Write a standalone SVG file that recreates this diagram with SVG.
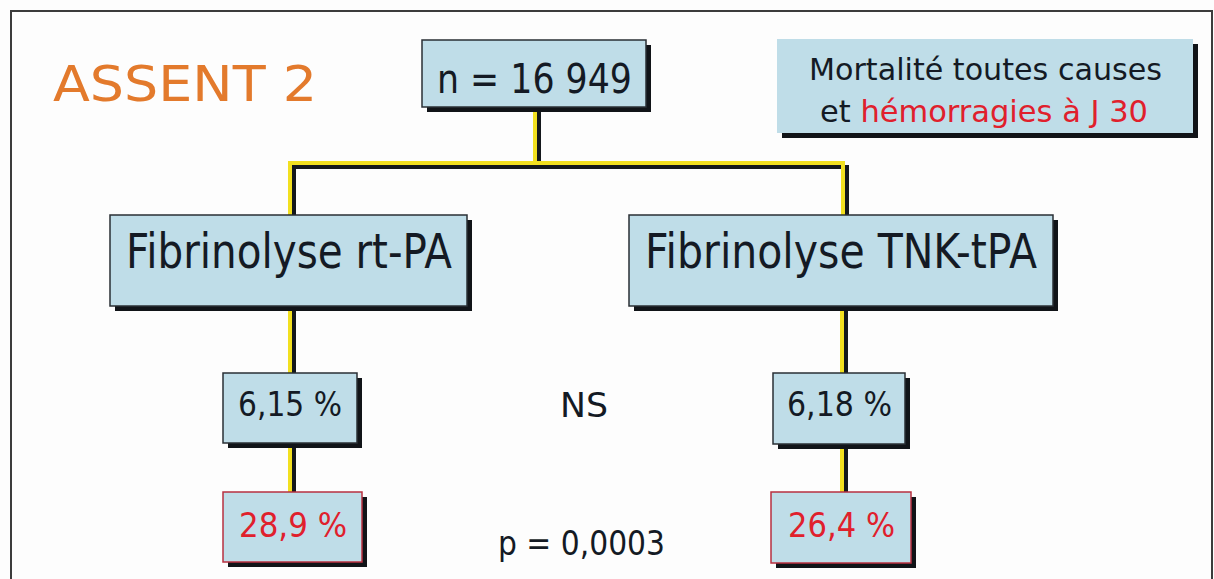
<svg xmlns="http://www.w3.org/2000/svg" width="1214" height="579" viewBox="0 0 1214 579">
<style>
.box{fill:#bfdde8;stroke:#2a2f35;stroke-width:1.5}
.rbox{fill:#bfdde8;stroke:#b83040;stroke-width:1.5}
.sh{fill:#111418}
.t{font-family:"DejaVu Sans","Open Sans",sans-serif;fill:#141a24}
.red{fill:#e0202c}
.yl{fill:none;stroke:#f2e020;stroke-width:4}
.bl{fill:none;stroke:#14181c;stroke-width:4}
</style>
<rect x="0" y="0" width="1214" height="579" fill="#fdfdfd"/>
<path d="M11,580 V11 H1212 V580" fill="none" stroke="#3c3c3c" stroke-width="2"/>
<text x="53" y="101" class="t" font-size="50" style="fill:#e37a2c" textLength="264" lengthAdjust="spacingAndGlyphs">ASSENT 2</text>
<g id="connectors">
<path class="bl" d="M539,108 V166"/>
<path class="yl" d="M535,108 V162"/>
<path class="bl" d="M294,215 V167 H847 V215"/>
<path class="yl" d="M290,215 V163 H843 V215"/>
<path class="bl" d="M294,307 V373 M294,444 V492"/>
<path class="yl" d="M290,307 V373 M290,444 V492"/>
<path class="bl" d="M846,307 V373 M846,444 V492"/>
<path class="yl" d="M842,307 V373 M842,444 V492"/>
</g>
<g id="n-total">
<rect class="sh" x="427" y="45" width="224" height="67"/>
<rect class="box" x="422" y="40" width="224" height="67"/>
<text x="437" y="93" class="t" font-size="40" textLength="195" lengthAdjust="spacingAndGlyphs">n = 16 949</text>
</g>
<g id="legend">
<rect class="sh" x="782" y="44" width="416" height="94"/>
<rect x="777" y="39" width="416" height="94" fill="#bfdde8"/>
<text x="809" y="80" class="t" font-size="31" textLength="353" lengthAdjust="spacingAndGlyphs">Mortalité toutes causes</text>
<text x="820" y="122" class="t" font-size="31" textLength="328" lengthAdjust="spacingAndGlyphs">et <tspan class="red">hémorragies à J 30</tspan></text>
</g>
<g id="rtpa">
<rect class="sh" x="115" y="220" width="357" height="91"/>
<rect class="box" x="110" y="215" width="357" height="91"/>
<text x="126" y="268" class="t" font-size="48" textLength="326" lengthAdjust="spacingAndGlyphs">Fibrinolyse rt-PA</text>
</g>
<g id="tnk">
<rect class="sh" x="634" y="220" width="424" height="91"/>
<rect class="box" x="629" y="215" width="424" height="91"/>
<text x="645" y="268" class="t" font-size="48" textLength="392" lengthAdjust="spacingAndGlyphs">Fibrinolyse TNK-tPA</text>
</g>
<g id="rtpa-mort">
<rect class="sh" x="228" y="378" width="134" height="70"/>
<rect class="box" x="223" y="373" width="134" height="70"/>
<text x="238" y="416" class="t" font-size="34" textLength="104" lengthAdjust="spacingAndGlyphs">6,15 %</text>
</g>
<g id="tnk-mort">
<rect class="sh" x="778" y="378" width="132" height="71"/>
<rect class="box" x="773" y="373" width="132" height="71"/>
<text x="787" y="416" class="t" font-size="34" textLength="105" lengthAdjust="spacingAndGlyphs">6,18 %</text>
</g>
<g id="rtpa-hem">
<rect class="sh" x="228" y="497" width="139" height="70"/>
<rect class="rbox" x="223" y="492" width="139" height="70"/>
<text x="239" y="537" class="t red" font-size="34" textLength="108" lengthAdjust="spacingAndGlyphs">28,9 %</text>
</g>
<g id="tnk-hem">
<rect class="sh" x="776" y="497" width="140" height="71"/>
<rect class="rbox" x="771" y="492" width="140" height="71"/>
<text x="788" y="537" class="t red" font-size="34" textLength="107" lengthAdjust="spacingAndGlyphs">26,4 %</text>
</g>
<g id="ns">
<text x="560" y="417" class="t" font-size="34" textLength="48" lengthAdjust="spacingAndGlyphs">NS</text>
</g>
<g id="pvalue">
<text x="498" y="555" class="t" font-size="34" textLength="167" lengthAdjust="spacingAndGlyphs">p = 0,0003</text>
</g>
</svg>
